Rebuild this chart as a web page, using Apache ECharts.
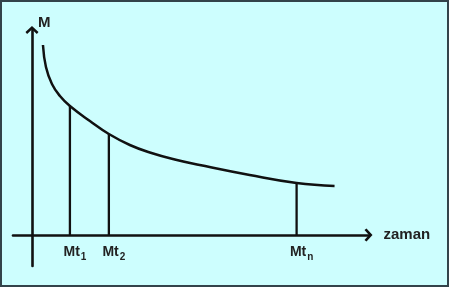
<!DOCTYPE html>
<html>
<head>
<meta charset="utf-8">
<script src="https://cdn.jsdelivr.net/npm/echarts@6/dist/echarts.min.js"></script>
<style>
html,body{margin:0;padding:0;background:#ffffff;}
#frame{position:absolute;left:0;top:0;width:449px;height:287px;box-sizing:border-box;border:2px solid #33434a;background:#cdfefe;}
#chart{position:absolute;left:0;top:0;width:454px;height:287px;}
</style>
</head>
<body>
<div id="frame"></div>
<div id="chart"></div>
<script>
// Decay curve M(t) (arbitrary units)
const curveT = [11, 14, 20, 28, 38, 58, 77, 98, 118, 143, 168, 218, 265, 303];
const curveM = [190, 168, 151, 139, 129, 114, 101, 90, 82.5, 75.5, 70, 60, 52, 49];
// Marked instants
const markT = [38, 77, 265];
const markM = [129, 101, 52];
const markSub = ['1', '2', 'n'];
const xName = 'zaman';
const yName = 'M';

const font = 'Liberation Sans, Arial, sans-serif';
const ink = '#111111';
const arrow = 'path://M0,6 L6.5,0 L13,6 L11.4,8 L6.5,3.6 L1.6,8 Z';

const series = [{
  type: 'line',
  data: curveT.map((t, i) => [t, curveM[i]]),
  smooth: 0.45,
  showSymbol: false,
  lineStyle: {color: ink, width: 2.5},
  z: 5
}];
markT.forEach((t, i) => {
  series.push({
    type: 'line',
    data: [[t, 0], [t, markM[i]]],
    showSymbol: false,
    lineStyle: {color: ink, width: 2.3},
    z: 4
  });
});

const chart = echarts.init(document.getElementById('chart'), null, {renderer: 'canvas'});
chart.setOption({
  animation: false,
  backgroundColor: 'transparent',
  grid: {left: 13, right: 85.5, top: 30, bottom: 21, containLabel: false, outerBoundsMode: 'none'},
  xAxis: {
    type: 'value', min: -19, max: 337,
    name: xName, nameLocation: 'end', nameGap: 15,
    nameTextStyle: {fontSize: 15, fontWeight: 'bold', color: '#222', fontFamily: font, padding: [0, 0, 12, 0]},
    axisLine: {onZero: true, lineStyle: {color: ink, width: 2.6}, symbol: ['none', arrow], symbolSize: [13, 8]},
    axisTick: {show: false},
    splitLine: {show: false},
    axisLabel: {
      customValues: markT,
      margin: -22,
      padding: [0, 0, 0, 10],
      formatter: function (v) {
        const i = markT.indexOf(v);
        return '{m|Mt}{s|' + markSub[i] + '}';
      },
      rich: {
        m: {fontSize: 14, fontWeight: 'bold', color: '#222', fontFamily: font, lineHeight: 16},
        s: {fontSize: 10, fontWeight: 'bold', color: '#222', fontFamily: font, padding: [10, 0, 0, 1], lineHeight: 16}
      }
    }
  },
  yAxis: {
    type: 'value', min: -31, max: 205,
    name: yName, nameLocation: 'end', nameGap: 0,
    nameTextStyle: {fontSize: 15, fontWeight: 'bold', color: '#222', fontFamily: font, align: 'left', padding: [0, 0, 0, 6]},
    axisLine: {onZero: true, lineStyle: {color: ink, width: 2.6}, symbol: ['none', arrow], symbolSize: [13, 8]},
    axisTick: {show: false},
    splitLine: {show: false},
    axisLabel: {show: false}
  },
  series: series
});
</script>
</body>
</html>
